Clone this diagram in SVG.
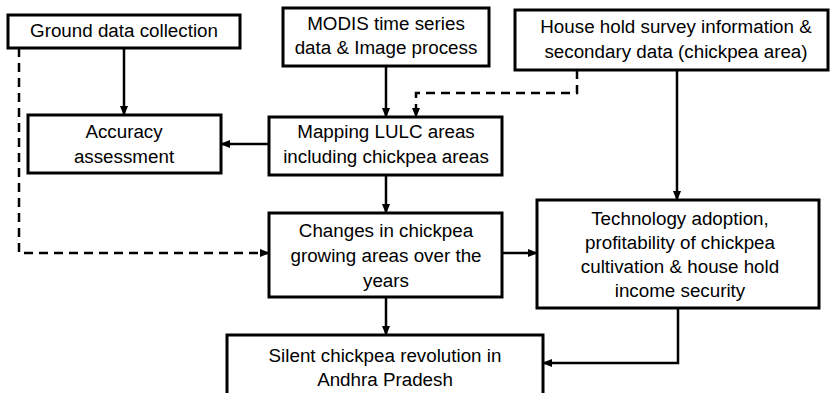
<svg xmlns="http://www.w3.org/2000/svg" width="830" height="393" viewBox="0 0 830 393">
<style>
.box{fill:#fff;stroke:#000;stroke-width:3}
.t{font-family:"Liberation Sans",Arial,sans-serif;font-size:18.8px;fill:#000;text-anchor:middle}
.c{fill:none;stroke:#000;stroke-width:2.5}
.d{stroke-dasharray:9 6}
</style>
<defs>
<marker id="a" markerUnits="userSpaceOnUse" markerWidth="10" markerHeight="10" viewBox="0 0 10 10" refX="9" refY="5" orient="auto">
<path d="M0,1 L10,5 L0,9 Z" fill="#000"/>
</marker>
</defs>
<rect width="830" height="393" fill="#fff"/>
<g id="connectors">
<path class="c" d="M124,48 V115" marker-end="url(#a)"/>
<path class="c" d="M386,66 V117" marker-end="url(#a)"/>
<path class="c d" d="M577,70 V93 H416 V117" marker-end="url(#a)"/>
<path class="c" d="M677,70 V200" marker-end="url(#a)"/>
<path class="c" d="M269,144 H221" marker-end="url(#a)"/>
<path class="c" d="M386,175 V213" marker-end="url(#a)"/>
<path class="c d" d="M19,48 V253 H269" marker-end="url(#a)"/>
<path class="c" d="M502,253 H537" marker-end="url(#a)"/>
<path class="c" d="M386,297 V335" marker-end="url(#a)"/>
<path class="c" d="M678,308 V363 H543" marker-end="url(#a)"/>
</g>
<g id="ground">
<rect class="box" x="8" y="15" width="232" height="33"/>
<text class="t" x="124" y="37">Ground data collection</text>
</g>
<g id="modis">
<rect class="box" x="283" y="8" width="206" height="58"/>
<text class="t" x="386" y="30">MODIS time series</text>
<text class="t" x="386" y="54">data &amp; Image process</text>
</g>
<g id="household">
<rect class="box" x="515" y="10" width="313" height="60"/>
<text class="t" x="676" y="33">House hold survey information &amp;</text>
<text class="t" x="676" y="58">secondary data (chickpea area)</text>
</g>
<g id="accuracy">
<rect class="box" x="28" y="115" width="193" height="58"/>
<text class="t" x="124" y="138">Accuracy</text>
<text class="t" x="124" y="163">assessment</text>
</g>
<g id="mapping">
<rect class="box" x="269" y="117" width="233" height="58"/>
<text class="t" x="386" y="138">Mapping LULC areas</text>
<text class="t" x="386" y="163">including chickpea areas</text>
</g>
<g id="changes">
<rect class="box" x="269" y="213" width="233" height="84"/>
<text class="t" x="386" y="237">Changes in chickpea</text>
<text class="t" x="386" y="262">growing areas over the</text>
<text class="t" x="386" y="287">years</text>
</g>
<g id="technology">
<rect class="box" x="537" y="200" width="282" height="108"/>
<text class="t" x="680" y="225">Technology adoption,</text>
<text class="t" x="680" y="249">profitability of chickpea</text>
<text class="t" x="680" y="273">cultivation &amp; house hold</text>
<text class="t" x="680" y="297">income security</text>
</g>
<g id="silent">
<rect class="box" x="227" y="335" width="316" height="62"/>
<text class="t" x="385" y="362">Silent chickpea revolution in</text>
<text class="t" x="385" y="386">Andhra Pradesh</text>
</g>
</svg>
